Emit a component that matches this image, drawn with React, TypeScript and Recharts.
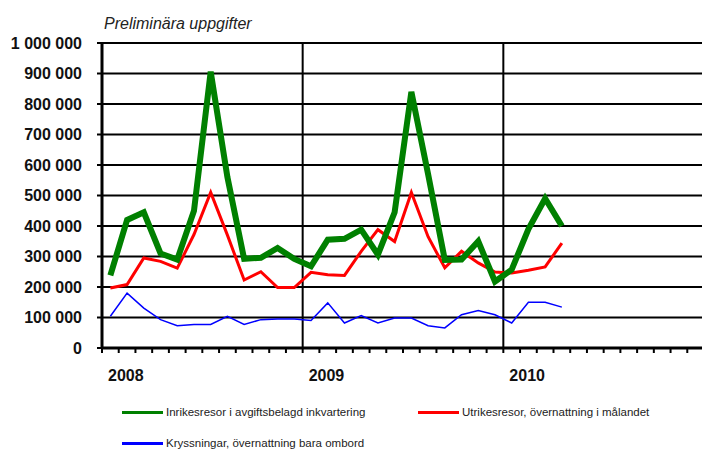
import { LineChart, Line, XAxis, YAxis, CartesianGrid, ReferenceLine } from 'recharts'

// Jan 2008 .. Apr 2010, monthly
const months = [
  '2008-01', '2008-02', '2008-03', '2008-04', '2008-05', '2008-06', '2008-07', '2008-08', '2008-09', '2008-10', '2008-11', '2008-12',
  '2009-01', '2009-02', '2009-03', '2009-04', '2009-05', '2009-06', '2009-07', '2009-08', '2009-09', '2009-10', '2009-11', '2009-12',
  '2010-01', '2010-02', '2010-03', '2010-04',
]

const inrikes = [
  238000, 420000, 445000, 310000, 290000, 450000, 906000, 560000, 292000, 296000, 328000, 292000,
  268000, 355000, 358000, 388000, 306000, 445000, 840000, 570000, 289000, 290000, 350000, 218000,
  257000, 390000, 490000, 400000,
]

const utrikes = [
  197000, 208000, 295000, 284000, 262000, 372000, 510000, 370000, 223000, 250000, 198000, 198000,
  248000, 240000, 238000, 317000, 388000, 349000, 510000, 365000, 263000, 317000, 279000, 249000,
  246000, 255000, 266000, 344000,
]

const kryss = [
  104000, 180000, 131000, 93000, 73000, 77000, 77000, 104000, 77000, 93000, 95000, 95000,
  90000, 148000, 82000, 106000, 82000, 98000, 98000, 73000, 66000, 109000, 123000, 109000,
  82000, 150000, 150000, 134000,
]

const years = ['2008', '2009', '2010']
const yTicks = [0, 100000, 200000, 300000, 400000, 500000, 600000, 700000, 800000, 900000, 1000000]
const monthTicks = Array.from({ length: 37 }, (_, i) => i)

const seriesNames = [
  'Inrikesresor i avgiftsbelagd inkvartering',
  'Utrikesresor, övernattning i målandet',
  'Kryssningar, övernattning bara ombord',
]

const data = months.map((m, i) => ({
  month: m,
  x: i + 0.5,
  inrikes: inrikes[i],
  utrikes: utrikes[i],
  kryss: kryss[i],
}))

const FONT = '"Liberation Sans", Arial, sans-serif'

const fmt = (v: number) => String(v).replace(/\B(?=(\d{3})+(?!\d))/g, ' ')

function YearTick(props: any) {
  const { x, y, payload } = props
  const idx = payload.value / 12
  if (!Number.isInteger(idx) || idx >= years.length) return null
  return (
    <text x={x + 6} y={y + 26} fontSize={16} fontWeight="bold" fill="#111" fontFamily={FONT}>
      {years[idx]}
    </text>
  )
}

function LegendItem({ color, label, left, top }: { color: string; label: string; left: number; top: number }) {
  return (
    <div style={{ position: 'absolute', left, top, display: 'flex', alignItems: 'center', height: 14 }}>
      <div style={{ width: 41, height: 3, background: color, marginRight: 3 }} />
      <span style={{ fontFamily: FONT, fontSize: 11.5, color: '#222', whiteSpace: 'nowrap' }}>{label}</span>
    </div>
  )
}

export default function App() {
  return (
    <div style={{ position: 'absolute', left: 0, top: 0, width: 702, height: 451, overflow: 'hidden', background: '#fff' }}>
      <div style={{ position: 'absolute', left: 104, top: 16, fontFamily: FONT, fontSize: 16, fontStyle: 'italic', color: '#222', lineHeight: '16px' }}>
        Preliminära uppgifter
      </div>
      <LineChart width={706} height={451} data={data} margin={{ top: 43, right: 2, bottom: 0, left: 0 }}>
        <CartesianGrid horizontal vertical={false} stroke="#000" strokeWidth={2} />
        <XAxis
          dataKey="x"
          type="number"
          domain={[0, 36]}
          ticks={monthTicks}
          interval={0}
          height={103}
          axisLine={{ stroke: '#000', strokeWidth: 3 }}
          tickLine={{ stroke: '#000', strokeWidth: 2 }}
          tickSize={5}
          tickMargin={2}
          tick={<YearTick />}
        />
        <YAxis
          type="number"
          domain={[0, 1000000]}
          ticks={yTicks}
          width={102}
          axisLine={{ stroke: '#000', strokeWidth: 3 }}
          tickLine={{ stroke: '#000', strokeWidth: 2 }}
          tickSize={5}
          tickMargin={15}
          tickFormatter={fmt}
          tick={{ fontSize: 16, fontWeight: 'bold', fill: '#111', fontFamily: FONT }}
        />
        <ReferenceLine x={12} stroke="#000" strokeWidth={2} />
        <ReferenceLine x={24} stroke="#000" strokeWidth={2} />
        <Line dataKey="kryss" stroke="#0000ff" strokeWidth={1.5} dot={false} isAnimationActive={false} />
        <Line dataKey="utrikes" stroke="#ff0000" strokeWidth={3} dot={false} isAnimationActive={false} />
        <Line dataKey="inrikes" stroke="#008000" strokeWidth={6} dot={false} isAnimationActive={false} />
      </LineChart>
      <LegendItem color="#008000" label={seriesNames[0]} left={122} top={405} />
      <LegendItem color="#ff0000" label={seriesNames[1]} left={418} top={405} />
      <LegendItem color="#0000ff" label={seriesNames[2]} left={122} top={436} />
    </div>
  )
}
